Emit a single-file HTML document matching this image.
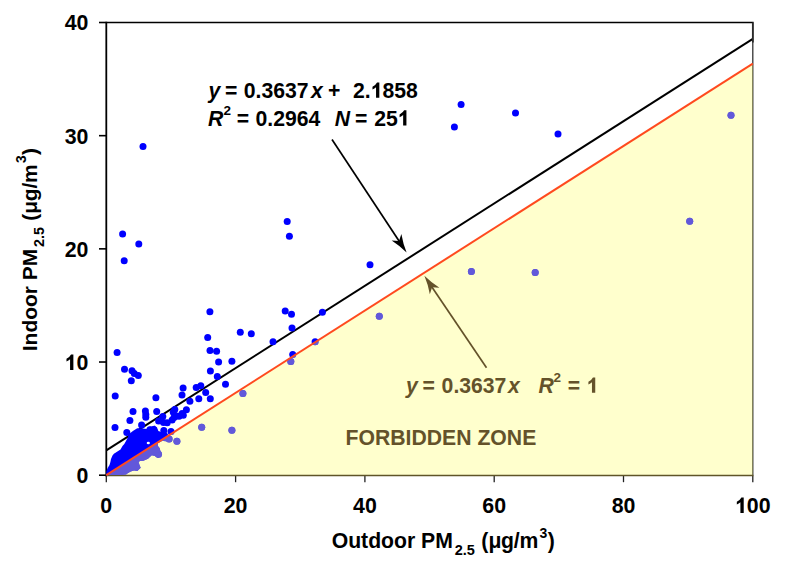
<!DOCTYPE html><html><head><meta charset="utf-8"><style>html,body{margin:0;padding:0;background:#fff;}svg{display:block}text{font-family:"Liberation Sans",sans-serif;font-weight:bold;white-space:pre;}</style></head><body>
<svg width="791" height="568" viewBox="0 0 791 568">
<rect width="791" height="568" fill="#fff"/>
<line x1="106.30" y1="450.46" x2="752.80" y2="38.84" stroke="#000" stroke-width="2.0"/>
<path d="M106.30,22.50 H752.80 V42.50" fill="none" stroke="#000" stroke-width="1.7"/>
<line x1="752.80" y1="22.50" x2="752.80" y2="475.20" stroke="#333" stroke-width="1.3"/>
<line x1="106.30" y1="21.70" x2="106.30" y2="476.40" stroke="#000" stroke-width="1.8"/>
<line x1="99" y1="475.20" x2="106.30" y2="475.20" stroke="#000" stroke-width="1.6"/>
<line x1="99" y1="362.02" x2="106.30" y2="362.02" stroke="#000" stroke-width="1.6"/>
<line x1="99" y1="248.85" x2="106.30" y2="248.85" stroke="#000" stroke-width="1.6"/>
<line x1="99" y1="135.67" x2="106.30" y2="135.67" stroke="#000" stroke-width="1.6"/>
<line x1="99" y1="22.50" x2="106.30" y2="22.50" stroke="#000" stroke-width="1.6"/>
<line x1="106.30" y1="475.20" x2="106.30" y2="482.2" stroke="#222" stroke-width="1.3"/>
<line x1="235.60" y1="475.20" x2="235.60" y2="482.2" stroke="#222" stroke-width="1.3"/>
<line x1="364.90" y1="475.20" x2="364.90" y2="482.2" stroke="#222" stroke-width="1.3"/>
<line x1="494.20" y1="475.20" x2="494.20" y2="482.2" stroke="#222" stroke-width="1.3"/>
<line x1="623.50" y1="475.20" x2="623.50" y2="482.2" stroke="#222" stroke-width="1.3"/>
<line x1="752.80" y1="475.20" x2="752.80" y2="482.2" stroke="#222" stroke-width="1.3"/>
<text x="76.54" y="483.10" font-size="21.33">0</text>
<path transform="translate(64.67,369.92) scale(21.33)" d="M0.253,0 L0.408,0 L0.408,-0.727 L0.30,-0.727 Q0.25,-0.62 0.085,-0.525 L0.085,-0.395 Q0.18,-0.43 0.253,-0.50 Z"/>
<text x="76.54" y="369.92" font-size="21.33">0</text>
<text x="64.67" y="256.75" font-size="21.33">20</text>
<text x="64.67" y="143.57" font-size="21.33">30</text>
<text x="64.67" y="30.40" font-size="21.33">40</text>
<text x="100.37" y="513.00" font-size="21.33">0</text>
<text x="223.74" y="513.00" font-size="21.33">20</text>
<text x="353.04" y="513.00" font-size="21.33">40</text>
<text x="482.34" y="513.00" font-size="21.33">60</text>
<text x="611.64" y="513.00" font-size="21.33">80</text>
<path transform="translate(735.01,513.00) scale(21.33)" d="M0.253,0 L0.408,0 L0.408,-0.727 L0.30,-0.727 Q0.25,-0.62 0.085,-0.525 L0.085,-0.395 Q0.18,-0.43 0.253,-0.50 Z"/>
<text x="746.87" y="513.00" font-size="21.33">00</text>
<g>
<text x="331.70" y="548.10" font-size="21.2">Outdoor PM</text>
<text x="454.69" y="555.40" font-size="14.5">2.5</text>
<text x="481.29" y="548.10" font-size="21.2">(</text>
<text x="488.39" y="548.10" font-size="21.2" font-weight="normal">&#956;</text>
<text x="500.99" y="548.10" font-size="21.2">g</text>
<text x="513.79" y="548.10" font-size="21.2">/</text>
<text x="519.49" y="548.10" font-size="21.2">m</text>
<text x="539.59" y="537.50" font-size="14">3</text>
<text x="547.79" y="548.10" font-size="21.2">)</text>
</g>
<g transform="translate(36.5,351.2) rotate(-90) scale(0.989)">
<text x="0.00" y="0.00" font-size="21.2">Indoor PM</text>
<text x="105.33" y="7.30" font-size="14.5">2.5</text>
<text x="131.93" y="0.00" font-size="21.2">(</text>
<text x="139.03" y="0.00" font-size="21.2" font-weight="normal">&#956;</text>
<text x="151.63" y="0.00" font-size="21.2">g</text>
<text x="164.43" y="0.00" font-size="21.2">/</text>
<text x="170.13" y="0.00" font-size="21.2">m</text>
<text x="190.23" y="-10.60" font-size="14">3</text>
<text x="198.43" y="0.00" font-size="21.2">)</text>
</g>
<text x="208.50" y="97.80" font-size="21.2" font-style="italic">y</text>
<text x="225.00" y="97.80" font-size="21.2">=</text>
<text x="243.80" y="97.80" font-size="21.2">0.3637</text>
<text x="310.90" y="97.80" font-size="21.2" font-style="italic">x</text>
<text x="327.90" y="97.80" font-size="21.2">+</text>
<text x="353.00" y="97.80" font-size="21.2">2.</text>
<path transform="translate(370.68,97.80) scale(21.2)" d="M0.253,0 L0.408,0 L0.408,-0.727 L0.30,-0.727 Q0.25,-0.62 0.085,-0.525 L0.085,-0.395 Q0.18,-0.43 0.253,-0.50 Z"/>
<text x="382.47" y="97.80" font-size="21.2">858</text>
<text x="208.00" y="125.60" font-size="21.2" font-style="italic">R</text>
<text x="223.50" y="114.50" font-size="13.5">2</text>
<text x="236.70" y="125.60" font-size="21.2">=</text>
<text x="255.50" y="125.60" font-size="21.2">0.2964</text>
<text x="334.70" y="125.60" font-size="21.2" font-style="italic">N</text>
<text x="355.00" y="125.60" font-size="21.2">=</text>
<text x="374.20" y="125.60" font-size="21.2">25</text>
<path transform="translate(397.78,125.60) scale(21.2)" d="M0.253,0 L0.408,0 L0.408,-0.727 L0.30,-0.727 Q0.25,-0.62 0.085,-0.525 L0.085,-0.395 Q0.18,-0.43 0.253,-0.50 Z"/>
<line x1="332.0" y1="139.5" x2="399.55" y2="241.82" stroke="#000" stroke-width="1.7"/>
<path d="M406.60,252.50 Q400.06,245.86 391.68,240.42 L399.00,240.98 L401.36,234.03 Q403.06,243.87 406.60,252.50 Z" fill="#000"/>
<polygon points="106.3,475.2 106.4,471.2 107.5,468.3 109.5,465.0 110.4,462.0 111.0,459.0 112.5,455.5 113.9,453.7 117.4,451.4 120.5,449.5 122.5,446.0 124.3,444.0 126.0,441.0 127.3,438.5 128.5,435.5 129.8,433.5 132.9,431.0 137.2,428.3 142.8,428.6 147.1,428.9 149.9,426.5 152.0,426.7 154.3,425.6 157.0,427.5 158.6,431.5 161.0,433.0 163.5,433.0 166.5,435.5 167.0,437.5 162.0,441.0 158.0,443.0 157.8,446.0 160.0,449.4 161.5,454.7 158.2,458.0 155.0,456.0 151.8,455.2 148.0,458.7 143.4,460.8 140.0,461.0 138.6,462.0 139.5,465.0 140.7,467.7 137.4,471.0 134.0,470.5 130.7,471.5 127.3,473.5 126.1,474.5 120.9,475.0 117.4,475.0 109.8,475.2" fill="#0000ff"/>
<ellipse cx="148.3" cy="443.0" rx="1.6" ry="1.2" fill="#fff"/>
<circle cx="143.0" cy="146.4" r="3.5" fill="#0000ff"/>
<circle cx="122.6" cy="234.1" r="3.5" fill="#0000ff"/>
<circle cx="138.8" cy="243.9" r="3.5" fill="#0000ff"/>
<circle cx="124.2" cy="260.8" r="3.5" fill="#0000ff"/>
<circle cx="287.2" cy="221.4" r="3.5" fill="#0000ff"/>
<circle cx="289.4" cy="236.2" r="3.5" fill="#0000ff"/>
<circle cx="461.1" cy="104.5" r="3.5" fill="#0000ff"/>
<circle cx="454.4" cy="126.9" r="3.5" fill="#0000ff"/>
<circle cx="515.5" cy="113.1" r="3.5" fill="#0000ff"/>
<circle cx="558.0" cy="134.0" r="3.5" fill="#0000ff"/>
<circle cx="731.0" cy="115.2" r="3.5" fill="#0000ff"/>
<circle cx="689.7" cy="221.2" r="3.5" fill="#0000ff"/>
<circle cx="370.0" cy="264.8" r="3.5" fill="#0000ff"/>
<circle cx="379.3" cy="316.3" r="3.5" fill="#0000ff"/>
<circle cx="471.4" cy="271.4" r="3.5" fill="#0000ff"/>
<circle cx="535.2" cy="272.6" r="3.5" fill="#0000ff"/>
<circle cx="285.2" cy="311.1" r="3.5" fill="#0000ff"/>
<circle cx="291.5" cy="314.2" r="3.5" fill="#0000ff"/>
<circle cx="322.4" cy="312.3" r="3.5" fill="#0000ff"/>
<circle cx="292.0" cy="328.0" r="3.5" fill="#0000ff"/>
<circle cx="240.3" cy="332.3" r="3.5" fill="#0000ff"/>
<circle cx="251.3" cy="333.7" r="3.5" fill="#0000ff"/>
<circle cx="273.0" cy="341.8" r="3.5" fill="#0000ff"/>
<circle cx="315.1" cy="341.8" r="3.5" fill="#0000ff"/>
<circle cx="292.7" cy="354.5" r="3.5" fill="#0000ff"/>
<circle cx="290.8" cy="361.5" r="3.5" fill="#0000ff"/>
<circle cx="231.9" cy="361.2" r="3.5" fill="#0000ff"/>
<circle cx="231.9" cy="430.3" r="3.5" fill="#0000ff"/>
<circle cx="209.9" cy="311.7" r="3.5" fill="#0000ff"/>
<circle cx="207.7" cy="337.4" r="3.5" fill="#0000ff"/>
<circle cx="210.0" cy="350.4" r="3.5" fill="#0000ff"/>
<circle cx="216.6" cy="351.2" r="3.5" fill="#0000ff"/>
<circle cx="218.6" cy="362.1" r="3.5" fill="#0000ff"/>
<circle cx="210.4" cy="370.9" r="3.5" fill="#0000ff"/>
<circle cx="217.3" cy="376.6" r="3.5" fill="#0000ff"/>
<circle cx="117.1" cy="352.5" r="3.5" fill="#0000ff"/>
<circle cx="124.5" cy="369.2" r="3.5" fill="#0000ff"/>
<circle cx="132.0" cy="370.7" r="3.5" fill="#0000ff"/>
<circle cx="134.3" cy="373.6" r="3.5" fill="#0000ff"/>
<circle cx="138.3" cy="375.4" r="3.5" fill="#0000ff"/>
<circle cx="131.3" cy="380.8" r="3.5" fill="#0000ff"/>
<circle cx="115.2" cy="396.1" r="3.5" fill="#0000ff"/>
<circle cx="155.9" cy="397.8" r="3.5" fill="#0000ff"/>
<circle cx="183.1" cy="388.0" r="3.5" fill="#0000ff"/>
<circle cx="182.0" cy="395.0" r="3.5" fill="#0000ff"/>
<circle cx="196.2" cy="387.4" r="3.5" fill="#0000ff"/>
<circle cx="200.8" cy="385.8" r="3.5" fill="#0000ff"/>
<circle cx="205.7" cy="392.6" r="3.5" fill="#0000ff"/>
<circle cx="198.8" cy="398.7" r="3.5" fill="#0000ff"/>
<circle cx="210.3" cy="398.7" r="3.5" fill="#0000ff"/>
<circle cx="225.5" cy="384.3" r="3.5" fill="#0000ff"/>
<circle cx="189.9" cy="401.3" r="3.5" fill="#0000ff"/>
<circle cx="186.4" cy="409.8" r="3.5" fill="#0000ff"/>
<circle cx="174.8" cy="409.6" r="3.5" fill="#0000ff"/>
<circle cx="182.1" cy="413.6" r="3.5" fill="#0000ff"/>
<circle cx="176.3" cy="415.9" r="3.5" fill="#0000ff"/>
<circle cx="172.1" cy="419.9" r="3.5" fill="#0000ff"/>
<circle cx="171.0" cy="431.5" r="3.5" fill="#0000ff"/>
<circle cx="242.9" cy="393.5" r="3.5" fill="#0000ff"/>
<circle cx="201.7" cy="427.3" r="3.5" fill="#0000ff"/>
<circle cx="169.1" cy="439.1" r="3.5" fill="#0000ff"/>
<circle cx="176.9" cy="441.3" r="3.5" fill="#0000ff"/>
<circle cx="158.5" cy="454.3" r="3.5" fill="#0000ff"/>
<circle cx="156.2" cy="449.5" r="3.5" fill="#0000ff"/>
<circle cx="133.0" cy="411.5" r="3.5" fill="#0000ff"/>
<circle cx="145.4" cy="410.9" r="3.5" fill="#0000ff"/>
<circle cx="145.8" cy="414.4" r="3.5" fill="#0000ff"/>
<circle cx="145.8" cy="417.3" r="3.5" fill="#0000ff"/>
<circle cx="129.9" cy="420.4" r="3.5" fill="#0000ff"/>
<circle cx="115.0" cy="427.5" r="3.5" fill="#0000ff"/>
<circle cx="126.8" cy="432.4" r="3.5" fill="#0000ff"/>
<circle cx="141.6" cy="425.0" r="3.5" fill="#0000ff"/>
<circle cx="156.7" cy="411.6" r="3.5" fill="#0000ff"/>
<circle cx="162.8" cy="416.6" r="3.5" fill="#0000ff"/>
<circle cx="158.6" cy="420.9" r="3.5" fill="#0000ff"/>
<circle cx="163.5" cy="422.4" r="3.5" fill="#0000ff"/>
<circle cx="167.2" cy="422.7" r="3.5" fill="#0000ff"/>
<circle cx="174.0" cy="417.5" r="3.5" fill="#0000ff"/>
<circle cx="179.0" cy="416.2" r="3.5" fill="#0000ff"/>
<circle cx="183.3" cy="415.3" r="3.5" fill="#0000ff"/>
<circle cx="173.3" cy="412.3" r="3.5" fill="#0000ff"/>
<circle cx="163.8" cy="430.4" r="3.5" fill="#0000ff"/>
<circle cx="153.6" cy="429.6" r="3.5" fill="#0000ff"/>
<circle cx="164.6" cy="435.7" r="3.5" fill="#0000ff"/>
<circle cx="165.4" cy="437.8" r="3.5" fill="#0000ff"/>
<circle cx="149.9" cy="429.8" r="3.5" fill="#0000ff"/>
<circle cx="158.6" cy="434.8" r="3.5" fill="#0000ff"/>
<polygon points="106.30,475.20 752.80,63.58 752.80,475.20" fill="rgba(255,255,112,0.35)"/>
<line x1="107.10" y1="475.5" x2="753.40" y2="475.5" stroke="#5f5528" stroke-width="1.6"/>
<clipPath id="tri"><polygon points="106.30,475.20 752.80,63.58 752.80,475.20"/></clipPath>
<g clip-path="url(#tri)" fill="#6258da">
<polygon points="106.3,475.2 106.4,471.2 107.5,468.3 109.5,465.0 110.4,462.0 111.0,459.0 112.5,455.5 113.9,453.7 117.4,451.4 120.5,449.5 122.5,446.0 124.3,444.0 126.0,441.0 127.3,438.5 128.5,435.5 129.8,433.5 132.9,431.0 137.2,428.3 142.8,428.6 147.1,428.9 149.9,426.5 152.0,426.7 154.3,425.6 157.0,427.5 158.6,431.5 161.0,433.0 163.5,433.0 166.5,435.5 167.0,437.5 162.0,441.0 158.0,443.0 157.8,446.0 160.0,449.4 161.5,454.7 158.2,458.0 155.0,456.0 151.8,455.2 148.0,458.7 143.4,460.8 140.0,461.0 138.6,462.0 139.5,465.0 140.7,467.7 137.4,471.0 134.0,470.5 130.7,471.5 127.3,473.5 126.1,474.5 120.9,475.0 117.4,475.0 109.8,475.2"/>
<circle cx="143.0" cy="146.4" r="3.5"/>
<circle cx="122.6" cy="234.1" r="3.5"/>
<circle cx="138.8" cy="243.9" r="3.5"/>
<circle cx="124.2" cy="260.8" r="3.5"/>
<circle cx="287.2" cy="221.4" r="3.5"/>
<circle cx="289.4" cy="236.2" r="3.5"/>
<circle cx="461.1" cy="104.5" r="3.5"/>
<circle cx="454.4" cy="126.9" r="3.5"/>
<circle cx="515.5" cy="113.1" r="3.5"/>
<circle cx="558.0" cy="134.0" r="3.5"/>
<circle cx="731.0" cy="115.2" r="3.5"/>
<circle cx="689.7" cy="221.2" r="3.5"/>
<circle cx="370.0" cy="264.8" r="3.5"/>
<circle cx="379.3" cy="316.3" r="3.5"/>
<circle cx="471.4" cy="271.4" r="3.5"/>
<circle cx="535.2" cy="272.6" r="3.5"/>
<circle cx="285.2" cy="311.1" r="3.5"/>
<circle cx="291.5" cy="314.2" r="3.5"/>
<circle cx="322.4" cy="312.3" r="3.5"/>
<circle cx="292.0" cy="328.0" r="3.5"/>
<circle cx="240.3" cy="332.3" r="3.5"/>
<circle cx="251.3" cy="333.7" r="3.5"/>
<circle cx="273.0" cy="341.8" r="3.5"/>
<circle cx="315.1" cy="341.8" r="3.5"/>
<circle cx="292.7" cy="354.5" r="3.5"/>
<circle cx="290.8" cy="361.5" r="3.5"/>
<circle cx="231.9" cy="361.2" r="3.5"/>
<circle cx="231.9" cy="430.3" r="3.5"/>
<circle cx="209.9" cy="311.7" r="3.5"/>
<circle cx="207.7" cy="337.4" r="3.5"/>
<circle cx="210.0" cy="350.4" r="3.5"/>
<circle cx="216.6" cy="351.2" r="3.5"/>
<circle cx="218.6" cy="362.1" r="3.5"/>
<circle cx="210.4" cy="370.9" r="3.5"/>
<circle cx="217.3" cy="376.6" r="3.5"/>
<circle cx="117.1" cy="352.5" r="3.5"/>
<circle cx="124.5" cy="369.2" r="3.5"/>
<circle cx="132.0" cy="370.7" r="3.5"/>
<circle cx="134.3" cy="373.6" r="3.5"/>
<circle cx="138.3" cy="375.4" r="3.5"/>
<circle cx="131.3" cy="380.8" r="3.5"/>
<circle cx="115.2" cy="396.1" r="3.5"/>
<circle cx="155.9" cy="397.8" r="3.5"/>
<circle cx="183.1" cy="388.0" r="3.5"/>
<circle cx="182.0" cy="395.0" r="3.5"/>
<circle cx="196.2" cy="387.4" r="3.5"/>
<circle cx="200.8" cy="385.8" r="3.5"/>
<circle cx="205.7" cy="392.6" r="3.5"/>
<circle cx="198.8" cy="398.7" r="3.5"/>
<circle cx="210.3" cy="398.7" r="3.5"/>
<circle cx="225.5" cy="384.3" r="3.5"/>
<circle cx="189.9" cy="401.3" r="3.5"/>
<circle cx="186.4" cy="409.8" r="3.5"/>
<circle cx="174.8" cy="409.6" r="3.5"/>
<circle cx="182.1" cy="413.6" r="3.5"/>
<circle cx="176.3" cy="415.9" r="3.5"/>
<circle cx="172.1" cy="419.9" r="3.5"/>
<circle cx="171.0" cy="431.5" r="3.5"/>
<circle cx="242.9" cy="393.5" r="3.5"/>
<circle cx="201.7" cy="427.3" r="3.5"/>
<circle cx="169.1" cy="439.1" r="3.5"/>
<circle cx="176.9" cy="441.3" r="3.5"/>
<circle cx="158.5" cy="454.3" r="3.5"/>
<circle cx="156.2" cy="449.5" r="3.5"/>
<circle cx="133.0" cy="411.5" r="3.5"/>
<circle cx="145.4" cy="410.9" r="3.5"/>
<circle cx="145.8" cy="414.4" r="3.5"/>
<circle cx="145.8" cy="417.3" r="3.5"/>
<circle cx="129.9" cy="420.4" r="3.5"/>
<circle cx="115.0" cy="427.5" r="3.5"/>
<circle cx="126.8" cy="432.4" r="3.5"/>
<circle cx="141.6" cy="425.0" r="3.5"/>
<circle cx="156.7" cy="411.6" r="3.5"/>
<circle cx="162.8" cy="416.6" r="3.5"/>
<circle cx="158.6" cy="420.9" r="3.5"/>
<circle cx="163.5" cy="422.4" r="3.5"/>
<circle cx="167.2" cy="422.7" r="3.5"/>
<circle cx="174.0" cy="417.5" r="3.5"/>
<circle cx="179.0" cy="416.2" r="3.5"/>
<circle cx="183.3" cy="415.3" r="3.5"/>
<circle cx="173.3" cy="412.3" r="3.5"/>
<circle cx="163.8" cy="430.4" r="3.5"/>
<circle cx="153.6" cy="429.6" r="3.5"/>
<circle cx="164.6" cy="435.7" r="3.5"/>
<circle cx="165.4" cy="437.8" r="3.5"/>
<circle cx="149.9" cy="429.8" r="3.5"/>
<circle cx="158.6" cy="434.8" r="3.5"/>
</g>
<line x1="106.30" y1="475.20" x2="752.80" y2="63.58" stroke="#ff4a1f" stroke-width="2"/>
<g fill="#64522a">
<text x="406.00" y="392.80" font-size="21.2" font-style="italic">y</text>
<text x="422.50" y="392.80" font-size="21.2">=</text>
<text x="441.60" y="392.80" font-size="21.2">0.3637</text>
<text x="507.90" y="392.80" font-size="21.2" font-style="italic">x</text>
<text x="538.40" y="392.80" font-size="21.2" font-style="italic">R</text>
<text x="553.60" y="382.20" font-size="13.5">2</text>
<text x="567.80" y="392.80" font-size="21.2">=</text>
<path transform="translate(586.60,392.80) scale(21.2)" d="M0.253,0 L0.408,0 L0.408,-0.727 L0.30,-0.727 Q0.25,-0.62 0.085,-0.525 L0.085,-0.395 Q0.18,-0.43 0.253,-0.50 Z"/>
<text x="345.60" y="444.50" font-size="21.2">FORBIDDEN ZONE</text>
</g>
<line x1="486.5" y1="367.8" x2="431.56" y2="286.41" stroke="#64522a" stroke-width="1.7"/>
<path d="M424.40,275.80 Q431.01,282.38 439.45,287.72 L432.12,287.24 L429.83,294.21 Q428.03,284.39 424.40,275.80 Z" fill="#64522a"/>
</svg></body></html>
